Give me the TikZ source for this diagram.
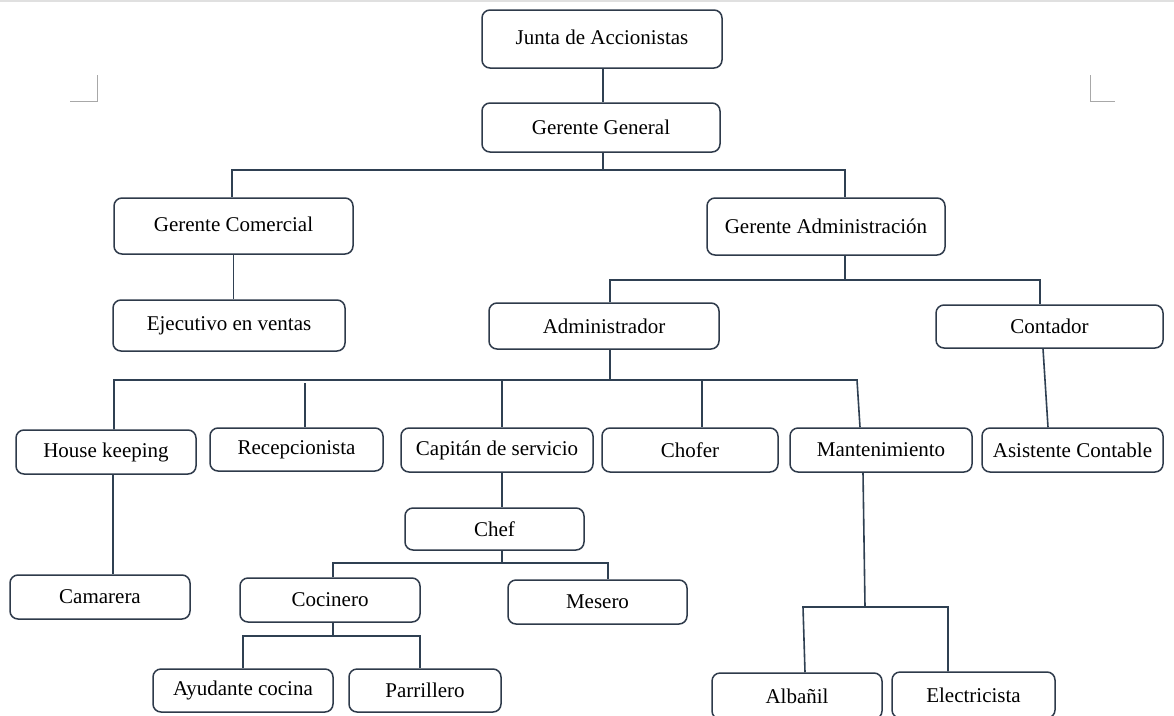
\documentclass[tikz,border=0pt]{standalone}
\usepackage{fontspec}
\setmainfont{Liberation Serif}
\definecolor{boxline}{HTML}{2E3A4A}
\definecolor{connline}{HTML}{2F4052}
\definecolor{marks}{HTML}{A8A8A8}
\begin{document}
\begin{tikzpicture}[x=1pt,y=-1pt,
  orgbox/.style={draw=boxline, line width=1.5pt, rounded corners=8pt, fill=white,
    inner sep=0pt, font=\fontsize{21}{24}\selectfont, text=black},
  conn/.style={draw=connline, line width=1.6pt},
  cornermark/.style={draw=marks, line width=1pt}]
\useasboundingbox (0,0) rectangle (1174,715);
\fill[white] (0,0) rectangle (1174,715);
\clip (0,0) rectangle (1174,715);
\draw[draw=black!12, line width=1.5pt] (0,1) -- (1174,1);
% corner marks
\draw[cornermark] (70,101) -- (97,101) -- (97,75);
\draw[cornermark] (1090,75) -- (1090,101) -- (1115,101);
% boxes
\node[orgbox, minimum width=240, minimum height=58] (junta) at (602,39) {\raisebox{4pt}{Junta de Accionistas}};
\node[orgbox, minimum width=238, minimum height=49] (gg) at (601,127.5) {Gerente General};
\node[orgbox, minimum width=239, minimum height=56] (gc) at (233.5,226) {\raisebox{4pt}{Gerente Comercial}};
\node[orgbox, minimum width=238, minimum height=57] (ga) at (826,226.5) {Gerente Administración};
\node[orgbox, minimum width=232, minimum height=51] (ejec) at (229,325.5) {Ejecutivo en ventas};
\node[orgbox, minimum width=230, minimum height=46] (admin) at (604,326) {Administrador};
\node[orgbox, minimum width=227, minimum height=43] (cont) at (1049.5,326.5) {Contador};
\node[orgbox, minimum width=180, minimum height=44] (hk) at (106,452) {House keeping};
\node[orgbox, minimum width=173, minimum height=43] (recep) at (296.5,449.5) {Recepcionista};
\node[orgbox, minimum width=192, minimum height=44] (cap) at (497,450) {Capitán de servicio};
\node[orgbox, minimum width=176, minimum height=44] (chofer) at (690,450) {Chofer};
\node[orgbox, minimum width=182, minimum height=44] (mant) at (881,450) {Mantenimiento};
\node[orgbox, minimum width=181, minimum height=44] (asist) at (1072.5,450) {Asistente Contable};
\node[orgbox, minimum width=179, minimum height=42] (chef) at (494.5,529) {Chef};
\node[orgbox, minimum width=180, minimum height=44] (cam) at (100,597) {Camarera};
\node[orgbox, minimum width=180, minimum height=44] (coc) at (330,600) {Cocinero};
\node[orgbox, minimum width=179, minimum height=44] (mes) at (597.5,602) {Mesero};
\node[orgbox, minimum width=180, minimum height=43] (ayu) at (243,690.5) {Ayudante cocina};
\node[orgbox, minimum width=152, minimum height=43] (parr) at (425,690.5) {Parrillero};
\node[orgbox, minimum width=170, minimum height=46] (alb) at (797,696) {\raisebox{-2pt}{Albañil}};
\node[orgbox, minimum width=163, minimum height=46] (elec) at (973.5,695) {Electricista};
% named coordinates for connector columns and buses
\coordinate (jx) at (603,0);
\coordinate (gbus) at (603,170);
\coordinate (gbl) at (232,170);
\coordinate (gbr) at (845,170);
\coordinate (abus) at (845,280);
\coordinate (abl) at (610,280);
\coordinate (abr) at (1040,280);
\coordinate (rbus) at (610,380);
\coordinate (rbl) at (114,380);
\coordinate (rbr) at (857,380);
\coordinate (rrec) at (305,383);
\coordinate (rcap) at (502,380);
\coordinate (rcho) at (702,380);
\coordinate (cx1) at (1043,0);
\coordinate (cx2) at (1048,0);
\coordinate (hx) at (113,0);
\coordinate (cbus) at (502,563);
\coordinate (cbl) at (333,563);
\coordinate (cbr) at (608,563);
\coordinate (kbus) at (333,636);
\coordinate (kbl) at (243,636);
\coordinate (kbr) at (420,636);
\coordinate (mx) at (863,0);
\coordinate (mbus) at (865,607);
\coordinate (mbl) at (803,607);
\coordinate (mbr) at (948,607);
% connectors
\draw[conn] (junta.south -| jx) -- (gg.north -| jx);
\draw[conn] (gg.south -| gbus) -- (gbus);
\draw[conn] (gc.north -| gbl) -- (gbl) -- (gbr) -- (ga.north -| gbr);
\draw[conn] (gc.south) -- (ejec.north -| gc.south);
\draw[conn] (ga.south -| abus) -- (abus);
\draw[conn] (admin.north -| abl) -- (abl) -- (abr) -- (cont.north -| abr);
\draw[conn] (admin.south -| rbus) -- (rbus);
\draw[conn] (hk.north -| rbl) -- (rbl) -- (rbr) -- ([xshift=3]mant.north -| rbr);
\draw[conn] (rrec) -- (recep.north -| rrec);
\draw[conn] (rcap) -- (cap.north -| rcap);
\draw[conn] (rcho) -- (chofer.north -| rcho);
\draw[conn] (cont.south -| cx1) -- (asist.north -| cx2);
\draw[conn] (hk.south -| hx) -- (cam.north -| hx);
\draw[conn] (cap.south -| cbus) -- (chef.north -| cbus);
\draw[conn] (chef.south -| cbus) -- (cbus);
\draw[conn] (coc.north -| cbl) -- (cbl) -- (cbr) -- (mes.north -| cbr);
\draw[conn] (coc.south -| kbus) -- (kbus);
\draw[conn] (ayu.north -| kbl) -- (kbl) -- (kbr) -- (parr.north -| kbr);
\draw[conn] (mant.south -| mx) -- (mbus);
\draw[conn] ([xshift=2]alb.north -| mbl) -- (mbl) -- (mbr) -- (elec.north -| mbr);
\end{tikzpicture}
\end{document}
